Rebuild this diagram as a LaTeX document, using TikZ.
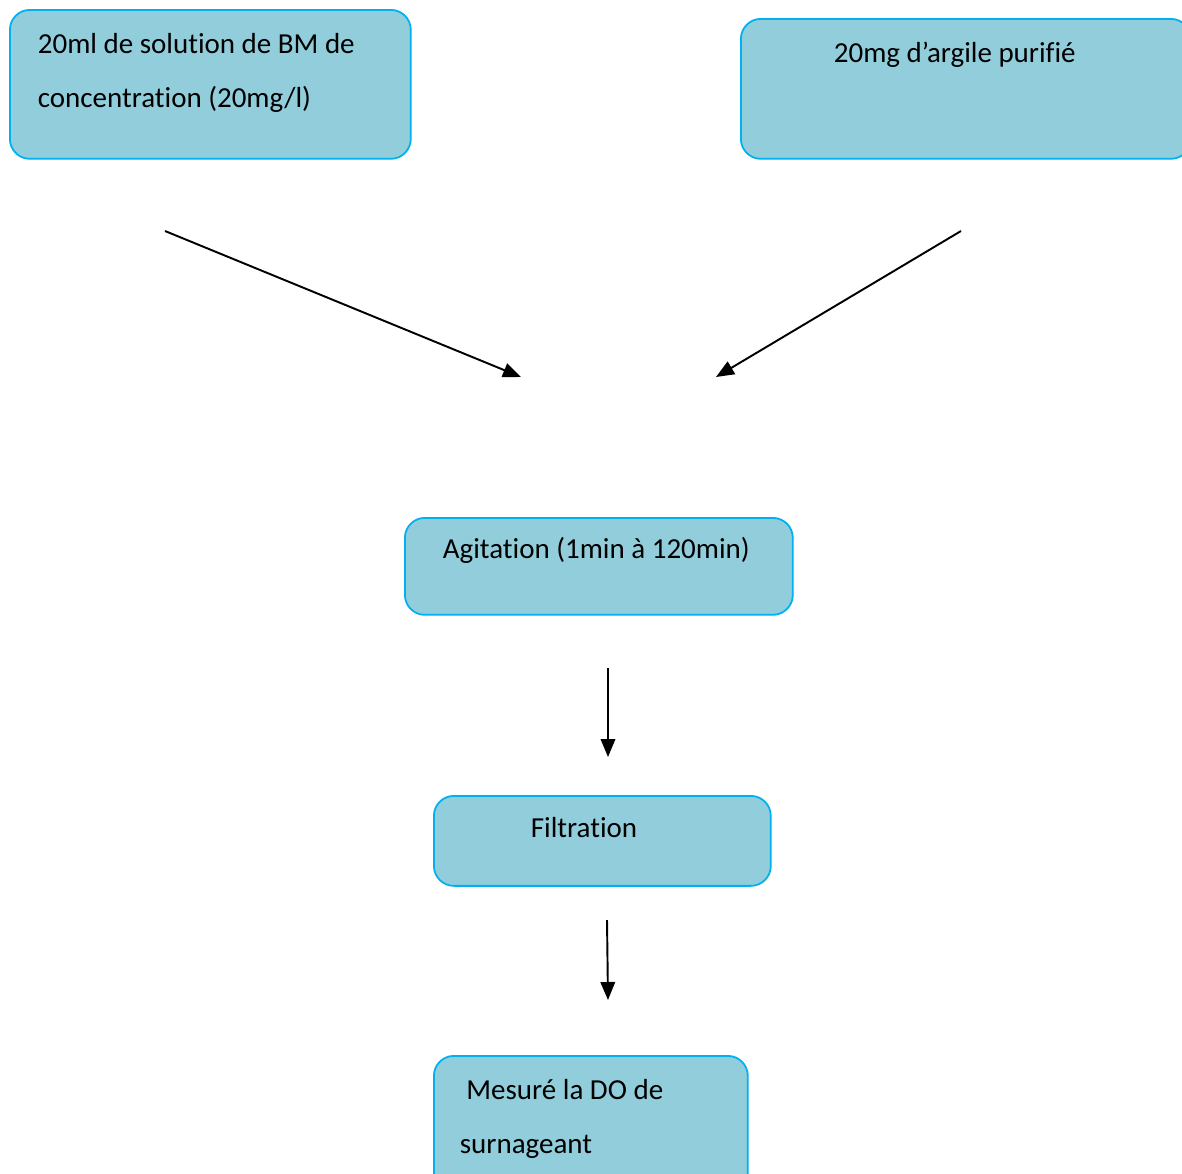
\documentclass[tikz,border=0pt]{standalone}
\usepackage{fontspec}
\setmainfont{Carlito}[Ligatures=NoCommon]
\usepackage{xcolor}
\usetikzlibrary{arrows.meta,positioning}
\definecolor{boxfill}{HTML}{92CDDC}
\definecolor{boxline}{HTML}{00B0F0}

\begin{document}
\begin{tikzpicture}[x=0.02cm, y=-0.02cm,
stage/.style = {draw=boxline, fill=boxfill, line width=1pt,
rounded corners=0.4cm, anchor=north west, align=flush left, inner ysep=0pt,
font=\fontsize{16.5}{30.7}\selectfont},
flow/.style = {line width=1.1pt, -{Triangle[length=0.36cm, width=0.29cm]}} ]
\useasboundingbox (0,0) rectangle (1182,1173);
% boxes
\node[stage, inner xsep=0.56cm, text width=6.9cm, text height=0.88cm,
  text depth=2.1cm] (solution) at (9,9)
  {20ml de solution de BM de\\concentration (20mg/l)};
\node[stage, inner xsep=1.86cm, text width=5.28cm, text height=0.88cm,
  text depth=1.92cm] (argile) at (740,18) {20mg d’argile purifié};
\node[stage, inner xsep=0.76cm, text width=6.24cm, text height=0.82cm,
  text depth=1.12cm] (agitation) at (404,517) {Agitation (1min à 120min)};
\node[stage, inner xsep=1.94cm, text width=2.86cm, text height=0.84cm,
  text depth=0.96cm] (filtration) at (433,795) {Filtration};
\node[stage, inner xsep=0.52cm, text width=5.24cm, text height=0.88cm,
  text depth=1.92cm] (mesure) at (433,1055) {\ Mesuré la DO de\\surnageant};
% arrows
\coordinate (solution out) at (165,231);
\coordinate (argile out) at (961,231);
\coordinate (mix left) at (521,377);
\coordinate (mix right) at (716,377);
\coordinate (agitation out) at (608,668);
\coordinate (filtration in) at (608,757);
\coordinate (filtration out) at (607,920);
\coordinate (mesure in) at (608,1000);
\draw[flow] (solution out) -- (mix left);
\draw[flow] (argile out) -- (mix right);
\draw[flow] (agitation out) -- (filtration in);
\draw[flow] (filtration out) -- (mesure in);
\end{tikzpicture}
\end{document}
